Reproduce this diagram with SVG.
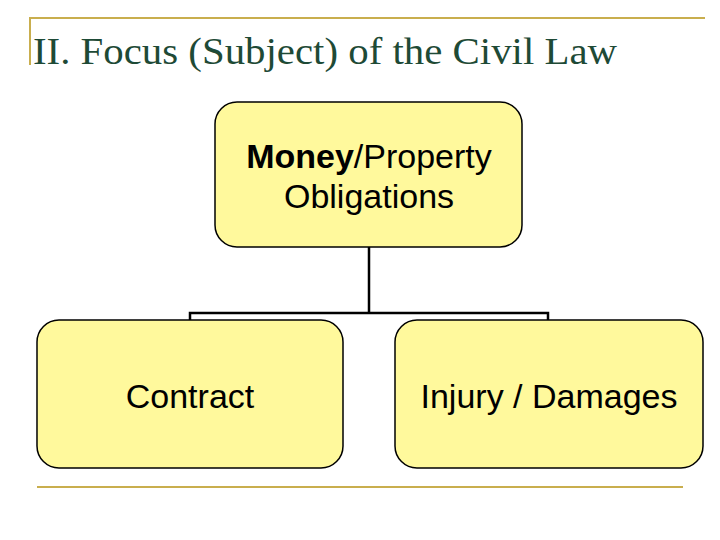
<svg xmlns="http://www.w3.org/2000/svg" width="720" height="540" viewBox="0 0 720 540">
<style>
.box{fill:#FFF99C;stroke:#000;stroke-width:1.5}
.t{font-family:"Liberation Sans",Arial,sans-serif;font-size:34px;fill:#000;text-anchor:middle}
.rule{stroke:#C9AE4E;stroke-width:2;fill:none}
</style>
<rect width="720" height="540" fill="#fff"/>
<path class="rule" d="M30,65 V18 H705"/>
<line class="rule" x1="37" y1="487" x2="683" y2="487"/>
<text x="33" y="64" font-family="'Liberation Serif','Times New Roman',serif" font-size="38" fill="#1E4A36" textLength="584" lengthAdjust="spacingAndGlyphs">II. Focus (Subject) of the Civil Law</text>
<g id="connectors" stroke="#000" stroke-width="2.5" fill="none">
<path d="M369,247 V313 M190,320 V313 H548 V320"/>
</g>
<g id="obligations">
<rect class="box" x="215" y="102" width="307" height="145" rx="22"/>
<text class="t" x="369" y="168"><tspan font-weight="bold">Money</tspan>/Property</text>
<text class="t" x="369" y="208">Obligations</text>
</g>
<g id="contract">
<rect class="box" x="37" y="320" width="306" height="148" rx="22"/>
<text class="t" x="190" y="408">Contract</text>
</g>
<g id="injury">
<rect class="box" x="395" y="320" width="308" height="148" rx="22"/>
<text class="t" x="549" y="408">Injury / Damages</text>
</g>
</svg>
